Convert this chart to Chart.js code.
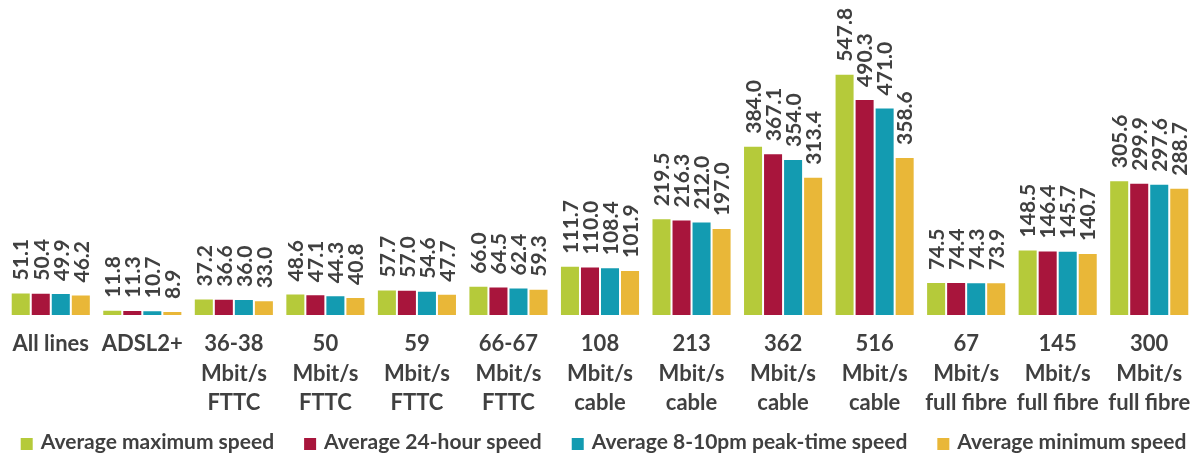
<!DOCTYPE html>
<html>
<head>
<meta charset="utf-8">
<script src="https://cdn.jsdelivr.net/npm/chart.js@4/dist/chart.umd.min.js"></script>
<style>
    html, body { margin: 0; padding: 0; background: #fff; }
    #wrap { width: 1195px; height: 454px; }
</style>
</head>
<body>
<div id="wrap"><canvas id="speedChart"></canvas></div>
<script>
const categories = [
    ['All lines'], ['ADSL2+'],
    ['36-38', 'Mbit/s', 'FTTC'], ['50', 'Mbit/s', 'FTTC'], ['59', 'Mbit/s', 'FTTC'], ['66-67', 'Mbit/s', 'FTTC'],
    ['108', 'Mbit/s', 'cable'], ['213', 'Mbit/s', 'cable'], ['362', 'Mbit/s', 'cable'], ['516', 'Mbit/s', 'cable'],
    ['67', 'Mbit/s', 'full fibre'], ['145', 'Mbit/s', 'full fibre'], ['300', 'Mbit/s', 'full fibre']
];
const maxSpeed  = [51.1, 11.8, 37.2, 48.6, 57.7, 66.0, 111.7, 219.5, 384.0, 547.8, 74.5, 148.5, 305.6];
const daySpeed  = [50.4, 11.3, 36.6, 47.1, 57.0, 64.5, 110.0, 216.3, 367.1, 490.3, 74.4, 146.4, 299.9];
const peakSpeed = [49.9, 10.7, 36.0, 44.3, 54.6, 62.4, 108.4, 212.0, 354.0, 471.0, 74.3, 145.7, 297.6];
const minSpeed  = [46.2,  8.9, 33.0, 40.8, 47.7, 59.3, 101.9, 197.0, 313.4, 358.6, 73.9, 140.7, 288.7];

const textColor = '#404040';
const fontFamily = 'Lato, "Open Sans", sans-serif';

// rotated value labels above each bar, kept inside the top of the plot
const barValues = {
    id: 'barValues',
    afterDatasetsDraw(chart) {
        const ctx = chart.ctx;
        const top = chart.chartArea.top;
        ctx.save();
        ctx.fillStyle = textColor;
        ctx.font = 'bold 21px ' + fontFamily;
        ctx.textAlign = 'left';
        ctx.textBaseline = 'middle';
        chart.data.datasets.forEach((ds, i) => {
            chart.getDatasetMeta(i).data.forEach((bar, j) => {
                const txt = ds.data[j].toFixed(1);
                const w = ctx.measureText(txt).width;
                const y = Math.max(bar.y - 12, top + 5 + w);
                ctx.save();
                ctx.translate(bar.x + 1, y);
                ctx.rotate(-Math.PI / 2);
                ctx.fillText(txt, 0, 0);
                ctx.restore();
            });
        });
        ctx.restore();
    }
};

// single-row legend along the bottom edge
const bottomLegend = {
    id: 'bottomLegend',
    afterDraw(chart) {
        const ctx = chart.ctx;
        const box = 12, textGap = 8, itemGap = 30;
        const y = chart.height - 12;
        ctx.save();
        ctx.font = 'bold 21px ' + fontFamily;
        ctx.textBaseline = 'middle';
        ctx.textAlign = 'left';
        const items = chart.data.datasets.map(ds => ({
            label: ds.label,
            color: ds.backgroundColor,
            width: box + textGap + ctx.measureText(ds.label).width
        }));
        const total = items.reduce((s, it) => s + it.width, 0) + itemGap * (items.length - 1);
        let x = (chart.width - total) / 2 + 6;
        items.forEach(it => {
            ctx.fillStyle = it.color;
            ctx.fillRect(x, y - 4, box, box);
            ctx.fillStyle = textColor;
            ctx.fillText(it.label, x + box + textGap, y);
            x += it.width + itemGap;
        });
        ctx.restore();
    }
};

const makeSet = (label, data, color) => ({
    label: label,
    data: data,
    backgroundColor: color,
    borderColor: '#ffffff',
    borderWidth: 1,
    barPercentage: 1.0,
    categoryPercentage: 0.875
});

new Chart(document.getElementById('speedChart'), {
    type: 'bar',
    data: {
        labels: categories,
        datasets: [
            makeSet('Average maximum speed', maxSpeed, '#b5ca3a'),
            makeSet('Average 24-hour speed', daySpeed, '#a8153c'),
            makeSet('Average 8-10pm peak-time speed', peakSpeed, '#139bb1'),
            makeSet('Average minimum speed', minSpeed, '#e9b738')
        ]
    },
    options: {
        responsive: true,
        maintainAspectRatio: false,
        animation: false,
        layout: { padding: { left: 5, right: 0, top: 0, bottom: 22 } },
        scales: {
            x: {
                grid: { display: false, drawTicks: false },
                border: { display: false },
                ticks: {
                    color: textColor,
                    font: { family: fontFamily, size: 22, weight: 'bold', lineHeight: 1.32 },
                    padding: 15,
                    maxRotation: 0,
                    autoSkip: false
                },
                // let the outer labels overhang instead of squeezing the bars
                afterFit(scale) {
                    scale.paddingLeft = 0;
                    scale.paddingRight = 0;
                }
            },
            y: {
                display: false,
                min: 0,
                max: 715
            }
        },
        plugins: {
            legend: { display: false },
            tooltip: { enabled: false }
        }
    },
    plugins: [barValues, bottomLegend]
});
</script>
</body>
</html>
